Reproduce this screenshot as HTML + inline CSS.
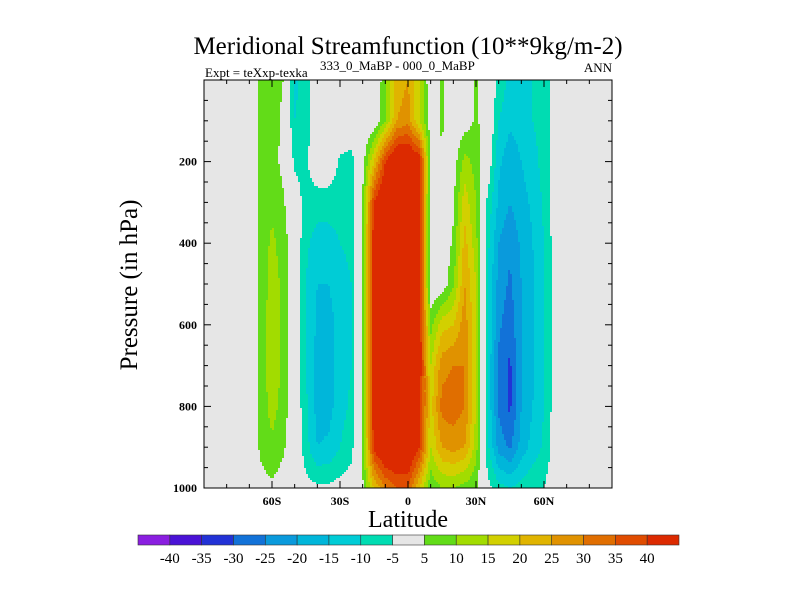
<!DOCTYPE html>
<html><head><meta charset="utf-8"><style>
html,body{margin:0;padding:0;background:#fff;}
svg{display:block;font-family:"Liberation Serif",serif;}
</style></head><body>
<svg id="chart" width="800" height="600" xmlns="http://www.w3.org/2000/svg">
<text x="408" y="54" text-anchor="middle" font-size="25">Meridional Streamfunction (10**9kg/m-2)</text>
<text x="205" y="77" font-size="13">Expt = teXxp-texka</text>
<text x="320" y="70" font-size="13">333_0_MaBP - 000_0_MaBP</text>
<text x="612" y="72" font-size="13" text-anchor="end">ANN</text>
<rect x="204" y="80" width="408" height="408" fill="#e6e6e6"/>
<g id="field"></g>
<g id="axes"></g>
<rect x="204" y="80" width="408" height="408" fill="none" stroke="#000" stroke-width="1"/>
<text transform="translate(137,285) rotate(-90)" text-anchor="middle" font-size="25">Pressure (in hPa)</text>
<text x="408" y="527" text-anchor="middle" font-size="24">Latitude</text>
<g id="colorbar"></g>
</svg>
<script>
const lats = [-90,-85,-80,-75,-70,-65,-60,-55,-50,-45,-40,-35,-30,-25,-20,-15,-10,-5,0,5,10,15,20,25,30,35,40,45,50,55,60,65,70,75,80,85,90];
const levels = [0,100,200,300,400,500,600,700,800,900,1000];
const z0 = [0,0,0,0,0,0,0,0,0,0,0];
const field = [
 z0,z0,z0,z0,z0,
 [6,6,6,6,7,7,7,7,7,6,3],
 [7,7,8,9,11,12,13,13,12,9,4],
 [5,4,3,6,8,9,9,9,8,6,2],
 [-11,-10,-6,-2,0,0,0,0,0,0,0],
 [-8,-8,-6,-7,-9,-10,-10,-10,-9,-8,-3],
 [0,0,0,-8,-12,-15,-16,-17,-17,-15,-4],
 [0,0,0,-8,-12,-15,-17,-17,-17,-14,-4],
 [0,0,-6,-8,-10,-12,-13,-13,-12,-10,-3],
 [0,0,-7,-8,-9,-10,-10,-10,-9,-7,-2],
 [0,0,2,6,6,6,6,6,6,6,4],
 [0,0,20,40,45,45,45,45,45,42,20],
 [8,10,40,50,50,50,50,50,50,50,30],
 [22,25,50,50,50,50,50,50,50,50,35],
 [25,28,50,50,50,50,50,50,50,50,35],
 [15,15,45,45,45,45,45,45,42,40,20],
 [0,2,3,0,0,0,8,15,18,15,6],
 [6,6,4,0,0,1,18,28,32,25,10],
 [0,0,2,4,6,9,20,30,33,27,10],
 [0,2,12,18,22,25,28,30,30,25,8],
 [6,6,8,10,12,15,15,15,15,12,6],
 [0,2,0,-6,-8,-10,-10,-10,-10,-8,-3],
 [-6,-10,-14,-16,-20,-22,-24,-26,-26,-22,-8],
 [-12,-14,-18,-20,-24,-26,-28,-31,-31,-26,-10],
 [-12,-13,-15,-17,-19,-20,-20,-20,-20,-18,-8],
 [-10,-10,-12,-14,-15,-16,-16,-16,-15,-13,-6],
 [-8,-8,-8,-9,-10,-10,-10,-10,-10,-9,-5],
 [-2,-2,-2,-2,-2,-2,-2,-2,-2,-2,-1],
 z0,z0,z0,z0,z0
];
const bounds = [-40,-35,-30,-25,-20,-15,-10,-5,5,10,15,20,25,30,35,40];
const colors = ["#8a1ee0","#4a12d6","#2232d6","#1272d8","#0a9adc","#00b6da","#00ccd6","#00dcb2","#e6e6e6","#62dc18","#a2dc00","#d2d000","#e0b400","#e09200","#e06e00","#e04c00","#dc2a00"];
const tickLabelsX = ["60S","30S","0","30N","60N"];
const tickValsX = [-60,-30,0,30,60];
const tickValsY = [200,400,600,800,1000];

const NS="http://www.w3.org/2000/svg";
const X0=204,Y0=80,W=408,H=408;
const xs = lat => X0 + (lat+90)/180*W;
const ys = p => Y0 + p/1000*H;
function colorIdx(v){let i=0;while(i<bounds.length&&v>=bounds[i])i++;return i;}
function valAt(lat,p){
  let fi=(lat-lats[0])/(lats[1]-lats[0]); fi=Math.max(0,Math.min(lats.length-1.0001,fi));
  let fj=(p-levels[0])/(levels[1]-levels[0]); fj=Math.max(0,Math.min(levels.length-1.0001,fj));
  const i=Math.floor(fi),j=Math.floor(fj),a=fi-i,b=fj-j;
  const v00=field[i][j],v10=field[i+1][j],v01=field[i][j+1],v11=field[i+1][j+1];
  return (1-a)*(1-b)*v00+a*(1-b)*v10+(1-a)*b*v01+a*b*v11;
}
const g=document.getElementById('field');
const step=2;
for(let py=0;py<H;py+=step){
  const p=(py+step/2)/H*1000;
  let start=0,cur=-1;
  for(let px=0;px<=W;px+=step){
    let c=-2;
    if(px<W){const lat=(px+step/2)/W*180-90;c=colorIdx(valAt(lat,p));}
    if(c!==cur){
      if(cur>=0&&cur!==8){
        const r=document.createElementNS(NS,'rect');
        r.setAttribute('x',X0+start);r.setAttribute('y',Y0+py);
        r.setAttribute('width',px-start);r.setAttribute('height',step);
        r.setAttribute('fill',colors[cur]);
        
        
        g.appendChild(r);
      }
      cur=c;start=px;
    }
  }
}
const ax=document.getElementById('axes');
function line(x1,y1,x2,y2,name){
  const l=document.createElementNS(NS,'line');
  l.setAttribute('x1',x1);l.setAttribute('y1',y1);l.setAttribute('x2',x2);l.setAttribute('y2',y2);
  l.setAttribute('stroke','#000');l.setAttribute('stroke-width','1');
  
  
  ax.appendChild(l);
}
function txt(x,y,s,anchor,size,name,parent,bold){
  const t=document.createElementNS(NS,'text');
  t.setAttribute('x',x);t.setAttribute('y',y);t.setAttribute('text-anchor',anchor);
  t.setAttribute('font-size',size);t.textContent=s;
  if(bold)t.setAttribute('font-weight','bold');
  
  
  (parent||ax).appendChild(t);
}
for(let lat=-80;lat<=80;lat+=10){
  const major=lat%30===0;const L=major?7:4;
  line(xs(lat),Y0+H,xs(lat),Y0+H-L,'x-tick');
  line(xs(lat),Y0,xs(lat),Y0+L,'x-tick-top');
}
tickValsX.forEach((v,i)=>txt(xs(v),Y0+H+17,tickLabelsX[i],'middle',12,'x-tick-label',null,true));
for(let p=50;p<1000;p+=50){
  const major=p%200===0;const L=major?7:4;
  line(X0,ys(p),X0+L,ys(p),'y-tick');
  line(X0+W,ys(p),X0+W-L,ys(p),'y-tick-right');
}
tickValsY.forEach(v=>txt(X0-7,ys(v)+4,String(v),'end',12,'y-tick-label',null,true));
const cb=document.getElementById('colorbar');
const cbx=138,cby=535,cbw=541,cbh=10,bw=cbw/colors.length;
colors.forEach((c,i)=>{
  const r=document.createElementNS(NS,'rect');
  r.setAttribute('x',cbx+i*bw);r.setAttribute('y',cby);r.setAttribute('width',bw);r.setAttribute('height',cbh);
  r.setAttribute('fill',c);r.setAttribute('stroke','#333');r.setAttribute('stroke-width','0.6');
  
  
  cb.appendChild(r);
});
bounds.forEach((b,i)=>txt(cbx+(i+1)*bw,cby+28,String(b),'middle',15,'colorbar-label',cb));
</script>
</body></html>
